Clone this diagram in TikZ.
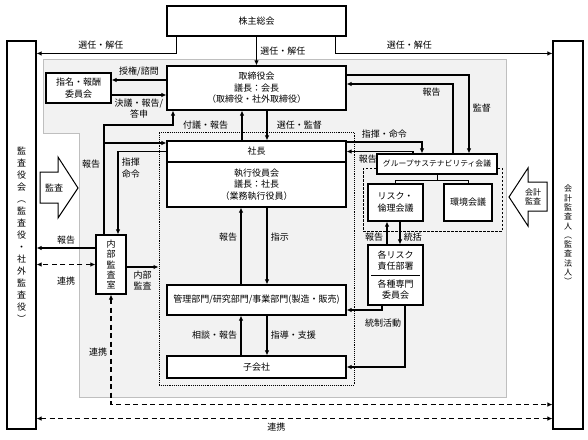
\documentclass[tikz,border=0pt]{standalone}
\usepackage{fontspec}
\setmainfont{Noto Sans CJK JP}
\usetikzlibrary{arrows.meta}
\newcommand{\widthmain}{179pt}
\newcommand{\widthside}{30pt}
\tikzset{
    >={Latex[length=5pt,width=4.5pt]},
    common/.style={draw, line width=1.1pt, fill=white, rectangle, inner sep=1pt, align=center},
    mainbox/.style={common, minimum width=\widthmain},
    sidebox/.style={common, minimum width=\widthside, minimum height=388pt},
    riskbox/.style={common, minimum width=55pt},
    flow/.style={->, line width=1.1pt},
    liaison/.style={<->, line width=1.2pt, dash pattern=on 5pt off 3.5pt},
    zone/.style={draw, densely dotted, line width=0.9pt, rectangle},
    subzone/.style={draw, dash pattern=on 2.5pt off 1.5pt, line width=0.7pt, rectangle},
    bigarrow/.style={draw, line width=1pt, fill=white},
    vtext/.style={font=\fontsize{9}{12}\selectfont},
    smalltext/.style={font=\fontsize{8}{9.3}\selectfont}
}

\begin{document}
\begin{tikzpicture}[x=1pt, y=-1pt, font=\fontsize{9}{11.5}\selectfont]
    \fill[white] (0,0) rectangle (588,439);
    \useasboundingbox (0,0) rectangle (588,439);

    % shaded area and zones
    \filldraw[fill=black!5, draw=black!25, line width=0.6pt]
        (43,59) -- (506,59) -- (506,397) -- (79,397) -- (79,133) -- (43,133) -- cycle;
    \node[zone, minimum width=195pt, minimum height=253pt] (execzone) at (256.5,258.5) {};
    \node[subzone, minimum width=139pt, minimum height=63pt] (groupzone) at (432.5,199.5) {};

    % boxes
    \node[mainbox, minimum height=30pt] (meeting) at (256.5,21) {株主総会};
    \node[mainbox, minimum height=44pt] (board) at (256.5,88) {取締役会\\議長：会長\\（取締役・社外取締役）};
    \node[common, minimum width=65pt, minimum height=30pt] (nomination) at (78.5,88) {指名・報酬\\委員会};
    \node[sidebox, minimum width=29pt, vtext] (kansayaku) at (21.5,235)
        {監\\査\\役\\会\\︵\\監\\査\\役\\・\\社\\外\\監\\査\\役\\︶};
    \node[sidebox, smalltext] (kaikei) at (568,235)
        {会\\計\\監\\査\\人\\︵\\監\\査\\法\\人\\︶};
    \node[mainbox, minimum height=21pt] (president) at (256.5,151.5) {社長};
    \node[mainbox, minimum height=45pt] (executive) at (256.5,184.5) {執行役員会\\議長：社長\\（業務執行役員）};
    \node[mainbox, minimum height=30pt] (divisions) at (256.5,300)
        {管理部門/研究部門/事業部門(製造・販売)};
    \node[mainbox, minimum height=22pt] (subsidiary) at (256.5,367) {子会社};
    \node[common, minimum width=30pt, minimum height=59pt, font=\fontsize{9}{10.3}\selectfont] (internal) at (111,264.5)
        {内\\部\\監\\査\\室};
    \node[common, minimum width=120pt, minimum height=20pt, inner sep=0pt, font=\fontsize{7.8}{9}\selectfont] (group) at (437,164)
        {グループサステナビリティ会議};
    \node[riskbox, minimum height=37pt] (ethics) at (395.5,202.5) {リスク・\\倫理会議};
    \node[common, minimum width=48pt, minimum height=37pt] (environment) at (468,202.5) {環境会議};
    \node[riskbox, minimum height=60pt] (riskdept) at (395.5,275) {各リスク\\責任部署\\[6pt]各種専門\\委員会};
    \draw[line width=1pt] ([xshift=4pt]riskdept.west) -- ([xshift=-4pt]riskdept.east);

    % big arrows
    \draw[bigarrow] (40,172) -- (58,172) -- (58,157) -- (78,188) -- (58,218) -- (58,203) -- (40,203) -- cycle;
    \node (auditlabel) at (54,188) {監査};
    \draw[bigarrow] (509,197) -- (528,168) -- (528,182) -- (547,182) -- (547,211) -- (528,211) -- (528,226) -- cycle;
    \node[smalltext, align=center] (accountlabel) at (533,197) {会計\\監査};

    % shareholders
    \draw[flow] ([xshift=10pt]meeting.south west) |- ([yshift=-13pt]kansayaku.north east) node[pos=0.77, above] {選任・解任};
    \draw[flow] (meeting.south) -- (board.north) node[midway, right] {選任・解任};
    \draw[flow] ([xshift=-11pt]meeting.south east) |- ([yshift=-13pt]kaikei.north west) node[pos=0.67, above] {選任・解任};

    % committee
    \draw[flow] ([yshift=8pt]board.west) -- ([yshift=8pt]nomination.east) node[midway, above] {授権/諮問};
    \draw[flow] ([yshift=-7pt]nomination.east) -- ([yshift=-7pt]board.west) node[midway, below, align=center] {決議・報告/\\答申};

    % board and president
    \draw[flow] ([xshift=-14.5pt]president.north) -- ([xshift=-14.5pt]board.south) node[midway, left=10pt] {付議・報告};
    \draw[flow] ([xshift=10.5pt]board.south) -- ([xshift=10.5pt]president.north) node[midway, right=6pt] {選任・監督};

    % internal audit
    \coordinate (reportbend) at (173,125);
    \coordinate (reportfork) at (104,143);
    \draw[flow] ([xshift=-7pt]internal.north) |- node[pos=0.32, left] {報告} (reportbend) -- (reportbend |- board.south);
    \draw[flow] (reportfork) -- (reportfork -| president.west);
    \draw[flow] (president.west) -| node[pos=0.6, right, align=center] {指揮\\命令} ([xshift=7pt]internal.north);
    \draw[flow] ([yshift=16.5pt]internal.west) -- ([yshift=16.5pt]kansayaku.east |- internal.west) node[midway, above] {報告};
    \draw[liaison] (internal.west) -- (kansayaku.east |- internal.west) node[midway, below=8pt] {連携};
    \draw[flow] ([yshift=-2.5pt]internal.east) -- ([yshift=-2.5pt]execzone.west |- internal.east) node[midway, below, align=center] {内部\\監査};
    \draw[liaison] (internal.south) |- node[pos=0.26, left] {連携} ([yshift=25pt]kaikei.south west);
    \draw[liaison] ([yshift=11pt]kansayaku.south east) -- ([yshift=11pt]kaikei.south west) node[pos=0.465, below] {連携};

    % executive line
    \draw[flow] ([xshift=-15.5pt]divisions.north) -- ([xshift=-15.5pt]executive.south) node[pos=0.62, left] {報告};
    \draw[flow] ([xshift=10.5pt]executive.south) -- ([xshift=10.5pt]divisions.north) node[pos=0.38, right] {指示};
    \draw[flow] ([xshift=-15.5pt]subsidiary.north) -- ([xshift=-15.5pt]divisions.south) node[midway, left] {相談・報告};
    \draw[flow] ([xshift=10.5pt]divisions.south) -- ([xshift=10.5pt]subsidiary.north) node[midway, right] {指導・支援};

    % sustainability
    \draw[flow] ([yshift=9.5pt]president.east) -| node[pos=0.25, above] {指揮・命令} ([xshift=-15pt]group.north);
    \draw[flow] ([xshift=-24pt]group.north) |- node[pos=0.84, below] {報告} (president.east);
    \draw[flow] ([yshift=13pt]board.east) -| node[pos=0.71, right] {監督} ([xshift=32pt]group.north);
    \draw[flow] ([xshift=16pt]group.north) |- node[pos=0.6, below] {報告} ([yshift=4pt]board.east);
    \draw[line width=1pt] (group.south) -- ++(0,6) coordinate (treefork);
    \draw[line width=1pt] (treefork) -| (ethics.north);
    \draw[line width=1pt] (treefork) -| (environment.north);
    \draw[flow] ([xshift=-8.5pt]riskdept.north) -- ([xshift=-8.5pt]ethics.south) node[pos=0.3, left] {報告};
    \draw[flow] ([xshift=4.5pt]ethics.south) -- ([xshift=4.5pt]riskdept.north) node[pos=0.7, right] {統括};
    \draw[flow] ([xshift=-13.5pt]riskdept.south) |- ([yshift=-10pt]divisions.east);
    \draw[flow] ([xshift=9.5pt]riskdept.south) |- node[pos=0.14, left] {統制活動} (subsidiary.east);
\end{tikzpicture}
\end{document}
